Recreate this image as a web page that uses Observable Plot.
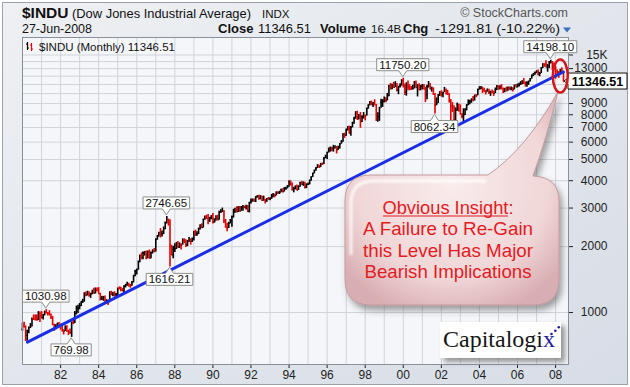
<!DOCTYPE html>
<html><head><meta charset="utf-8">
<script src="https://cdn.jsdelivr.net/npm/d3@7"></script>
<script src="https://cdn.jsdelivr.net/npm/@observablehq/plot@0.6"></script>
<style>
html,body{margin:0;padding:0;background:#fff;}
#wrap{position:relative;width:630px;height:387px;overflow:hidden;}
#wrap > svg, #chart{position:absolute;left:0;top:0;}
</style></head><body>
<div id="wrap">
<svg id="bg" width="630" height="387">
  <defs>
    <linearGradient id="outerG" x1="0" y1="0" x2="1" y2="1">
      <stop offset="0" stop-color="#eef0f3"/><stop offset="1" stop-color="#d7dde6"/>
    </linearGradient>
  </defs>
  <rect x="0" y="0" width="630" height="387" fill="#fff"/>
  <rect x="2.5" y="2.5" width="625" height="382" fill="url(#outerG)" stroke="#9aa1aa"/>
</svg>
<div id="chart"></div>
<svg id="ov" width="630" height="387"></svg>
</div>
<script>
// ---------------- data ----------------
const startYear = 1980;
const priorClose = 838.74; // Dec 1979 close (open of first bar)
const closes = [
875.85,863.14,785.75,817.06,850.85,867.92,935.32,932.59,932.42,924.49,993.34,963.99,
947.27,974.58,1003.87,997.75,991.75,976.88,952.34,881.47,849.98,852.55,888.98,875.00,
871.10,824.39,822.77,848.36,819.54,811.93,808.60,901.31,896.25,991.72,1039.28,1046.54,
1075.70,1112.62,1130.03,1226.20,1199.98,1221.96,1199.22,1216.16,1233.13,1225.20,1276.02,1258.64,
1220.58,1154.63,1164.89,1170.75,1104.85,1132.40,1115.28,1224.38,1206.71,1207.38,1188.94,1211.57,
1286.77,1284.01,1266.78,1258.06,1315.41,1335.46,1347.45,1334.01,1328.63,1374.31,1472.13,1546.67,
1570.99,1709.06,1818.61,1783.98,1876.71,1892.72,1775.31,1898.34,1767.58,1877.81,1914.23,1895.95,
2158.04,2223.99,2304.69,2286.36,2291.57,2418.53,2572.07,2662.95,2596.28,1993.53,1833.55,1938.83,
1958.22,2071.62,1988.06,2032.33,2031.12,2141.71,2128.73,2031.65,2112.91,2148.65,2114.51,2168.57,
2342.32,2258.39,2293.62,2418.80,2480.15,2440.06,2660.66,2737.27,2692.82,2645.08,2706.27,2753.20,
2590.54,2627.25,2707.21,2656.76,2876.66,2880.69,2905.20,2614.36,2452.48,2442.33,2559.65,2633.66,
2736.39,2882.18,2913.86,2887.87,3027.50,2906.75,3024.82,3043.60,3016.77,3069.10,2894.68,3168.83,
3223.39,3267.67,3235.47,3359.12,3396.88,3318.52,3393.78,3257.35,3271.66,3226.28,3305.16,3301.11,
3310.03,3370.81,3435.11,3427.55,3527.43,3516.08,3539.47,3651.25,3555.12,3680.59,3683.95,3754.09,
3978.36,3832.02,3635.96,3681.69,3758.37,3624.96,3764.50,3913.42,3843.19,3908.12,3739.23,3834.44,
3843.86,4011.05,4157.69,4321.27,4465.14,4556.10,4708.47,4610.56,4789.08,4755.48,5074.49,5117.12,
5395.30,5485.62,5587.14,5569.08,5643.18,5654.63,5528.91,5616.21,5882.17,6029.38,6521.70,6448.27,
6813.09,6877.74,6583.48,7008.99,7331.04,7672.79,8222.61,7622.42,7945.26,7442.08,7823.13,7908.25,
7906.50,8545.72,8799.81,9063.37,8899.95,8952.02,8883.29,7539.07,7842.62,8592.10,9116.55,9181.43,
9358.83,9306.58,9786.16,10789.04,10559.74,10970.80,10655.15,10829.28,10336.95,10729.86,10877.81,11497.12,
10940.53,10128.31,10921.92,10733.91,10522.33,10447.89,10521.98,11215.10,10650.92,10971.14,10414.49,10787.99,
10887.36,10495.28,9878.78,10734.97,10911.94,10502.40,10522.81,9949.75,8847.56,9075.14,9851.56,10021.50,
9920.00,10106.13,10403.94,9946.22,9925.25,9243.26,8736.59,8663.50,7591.93,8397.03,8896.09,8341.63,
8053.81,7891.08,7992.13,8480.09,8850.26,8985.44,9233.80,9415.82,9275.06,9801.12,9782.46,10453.92,
10488.07,10583.92,10357.70,10225.57,10188.45,10435.48,10139.71,10173.92,10080.27,10027.47,10428.02,10783.01,
10489.94,10766.23,10503.76,10192.51,10467.48,10274.97,10640.91,10481.60,10568.70,10440.07,10805.87,10717.50,
10864.86,10993.41,11109.32,11367.14,11168.31,11150.22,11185.68,11381.15,11679.07,12080.73,12221.93,12463.15,
12621.69,12268.63,12354.35,13062.91,13627.64,13408.62,13211.99,13357.74,13895.63,13930.01,13371.72,13264.82,
12650.36,12266.39,12262.89,12820.13,12638.32,11346.51
];
const highs = [
895,903,868,830,860,890,945,975,975,975,1010,1005,
1010,980,1015,1031,1000,1020,985,960,885,880,895,900,
885,875,835,870,870,830,840,905,940,1010,1070,1080,
1100,1125,1150,1230,1240,1250,1245,1225,1265,1290,1295,1295,
1300,1225,1185,1185,1190,1145,1140,1245,1250,1235,1245,1220,
1295,1310,1305,1290,1325,1345,1375,1360,1345,1385,1480,1560,
1580,1720,1830,1870,1890,1900,1910,1910,1930,1890,1935,1960,
2170,2250,2325,2420,2355,2460,2590,2747,2670,2650,2030,2010,
2060,2090,2110,2080,2060,2170,2170,2150,2130,2200,2170,2190,
2350,2380,2340,2430,2520,2540,2670,2760,2780,2800,2720,2770,
2830,2680,2770,2780,2900,2950,3000,2920,2660,2560,2580,2660,
2760,2960,2990,3040,3040,3050,3050,3080,3060,3090,3080,3190,
3300,3300,3300,3380,3420,3430,3420,3400,3400,3290,3320,3350,
3340,3460,3500,3470,3560,3560,3580,3660,3670,3720,3730,3800,
3990,3990,3900,3730,3790,3820,3790,3930,3970,3950,3930,3870,
3900,4030,4170,4330,4470,4590,4730,4710,4800,4820,5110,5230,
5400,5640,5700,5690,5800,5780,5730,5750,5920,6100,6560,6590,
6880,7080,7100,7080,7400,7800,8260,8300,8030,8190,7920,8190,
7980,8580,8900,9210,9240,9110,9370,8920,8180,8660,9420,9380,
9650,9560,10010,10900,11110,11040,11250,11330,11120,10800,11100,11570,
11750,11050,11200,11400,10990,10760,10920,11350,11400,10990,11080,10900,
11000,11000,10700,10900,11350,11100,10700,10620,10000,9550,9900,10200,
10300,10150,10670,10480,10350,10000,9400,9100,8800,8600,9050,8950,
8870,8110,8520,8520,8900,9350,9330,9460,9690,9830,9900,10470,
10750,10760,10690,10580,10320,10500,10460,10250,10370,10250,10600,10870,
10860,10850,10990,10600,10560,10700,10720,10720,10720,10640,10940,10990,
11050,11140,11340,11440,11710,11300,11330,11400,11730,12170,12360,12530,
12700,12800,12500,13140,13690,13700,14120,13600,14000,14198,14000,13780,
13280,12800,12600,12900,13130,12660
];
const lows = [
820,850,737,740,800,845,860,920,915,915,920,900,
935,925,965,985,965,965,930,875,820,835,845,865,
830,815,790,820,815,785,795,770,880,890,975,990,
1030,1065,1100,1115,1180,1190,1175,1160,1205,1215,1215,1245,
1215,1130,1135,1125,1100,1090,1078,1110,1195,1180,1180,1165,
1185,1270,1245,1245,1235,1295,1320,1305,1290,1320,1365,1455,
1485,1560,1690,1740,1740,1810,1740,1760,1755,1760,1850,1880,
1890,2140,2210,2190,2210,2270,2390,2540,2480,1616,1820,1760,
1880,1940,1970,1960,1930,2030,2060,1980,2000,2090,2030,2090,
2120,2230,2230,2270,2380,2420,2430,2640,2660,2520,2580,2650,
2540,2560,2620,2620,2640,2840,2860,2550,2430,2340,2420,2540,
2450,2700,2840,2850,2860,2880,2900,2900,2980,2940,2860,2850,
3130,3190,3200,3180,3330,3260,3270,3210,3230,3130,3190,3260,
3240,3290,3340,3340,3410,3460,3460,3520,3530,3550,3620,3670,
3730,3800,3590,3520,3630,3610,3610,3730,3820,3770,3670,3680,
3800,3830,3980,4140,4300,4420,4550,4560,4600,4700,4740,5040,
5000,5350,5400,5430,5400,5590,5300,5500,5580,5870,5990,6240,
6390,6750,6550,6390,6970,7240,7640,7560,7600,6940,7380,7650,
7500,7900,8480,8790,8860,8630,8850,7480,7400,7470,8560,8650,
9070,9080,9260,9670,10360,10410,10610,10640,10200,9880,10590,10810,
10600,9800,9730,10300,10300,10360,10400,10500,10600,9650,10300,10300,
10400,10400,9100,9380,10600,10400,10150,9800,8062,8800,9000,9700,
9630,9560,10100,9910,9810,9050,7530,8200,7520,7197,8300,8250,
7990,7670,7420,7940,8330,8800,8900,9030,9220,9250,9580,9770,
10400,10400,10000,10200,9850,10150,9910,9710,10000,9710,10000,10340,
10370,10400,10410,10010,10090,10240,10250,10380,10300,10160,10400,10700,
10600,10700,10900,10980,11000,10700,10680,10900,11300,11640,11960,12120,
12330,12050,11940,12350,13000,13200,13200,12520,13000,13650,12720,13100,
11630,12000,11730,12200,12600,11300
];
const yTickValues = [1000,2000,3000,4000,5000,6000,7000,8000,9000,13000,15000];
const yGridValues = [1000,2000,3000,4000,5000,6000,7000,8000,9000,10000,11000,12000,13000,14000,15000];
const xLabelYears = [1982,1984,1986,1988,1990,1992,1994,1996,1998,2000,2002,2004,2006,2008];
const gridYears = [1980,1981,1982,1983,1984,1985,1986,1987,1988,1989,1990,1991,1992,1993,1994,1995,1996,1997,1998,1999,2000,2001,2002,2003,2004,2005,2006,2007,2008];
const trendDates = ["1980-04-05","2008-05-28"];
const trendValues = [733, 12540];
const annoDates = ["1981-04-01","1982-08-01","1987-08-01","1987-10-01","2000-01-01","2001-09-01","2007-10-01"];
const annoValues = [1030.98, 769.98, 2746.65, 1616.21, 11750.20, 8062.34, 14198.10];
const annoSide = ["above","below","above","below","above","below","above"];
const lastClose = 11346.51;
const calloutLines = ["A Failure to Re-Gain","this Level Has Major","Bearish Implications"];

// ---------------- build ----------------
const RED = "#e60000", BLACK = "#000";
const bars = closes.map((c, i) => {
  const date = new Date(Date.UTC(startYear + Math.floor(i / 12), i % 12, 1));
  const open = i === 0 ? priorClose : closes[i - 1];
  return {date, open, close: c, high: highs[i], low: lows[i], down: c < open};
});
const DAY = 864e5;
const trend = trendDates.map((d, i) => ({date: new Date(d + "T00:00:00Z"), value: trendValues[i]}));
const yd = y => new Date(Date.UTC(y, 0, 1));
const barColor = d => d.down ? RED : BLACK;

const plot = Plot.plot({
  width: 630, height: 387,
  marginTop: 37, marginRight: 62, marginBottom: 23, marginLeft: 22,
  style: {background: "transparent", color: "#222", fontFamily: "'Liberation Sans', Arial, sans-serif", fontSize: "12px", overflow: "visible"},
  x: {type: "utc", domain: [new Date(Date.UTC(1980, 0, 1)), new Date(Date.UTC(2008, 8, 5))], label: null},
  y: {type: "log", domain: [579, 18030], label: null},
  marks: [
    Plot.frame({fill: "#f5f6f9", stroke: null}),
    Plot.gridX(gridYears.map(yd), {stroke: "#cfd3da", strokeOpacity: 1}),
    Plot.gridY(yGridValues, {stroke: "#cfd3da", strokeOpacity: 1}),
    Plot.ruleX(bars, {x: "date", y1: "low", y2: "high", stroke: barColor, strokeWidth: 1.6}),
    Plot.ruleY(bars, {x1: d => new Date(+d.date - 15 * DAY), x2: "date", y: "open", stroke: barColor, strokeWidth: 1.2}),
    Plot.ruleY(bars, {x1: "date", x2: d => new Date(+d.date + 15 * DAY), y: "close", stroke: barColor, strokeWidth: 1.2}),
    Plot.line(trend, {x: "date", y: "value", stroke: "#1a2ee8", strokeWidth: 3}),
    Plot.axisX(xLabelYears.map(yd), {tickSize: 4, tickPadding: 2, fontSize: 12, tickFormat: d => String(d.getUTCFullYear()).slice(2)}),
    Plot.axisY(yTickValues, {anchor: "right", tickSize: 4, tickFormat: () => ""}),
    Plot.text(yTickValues, {y: d => d, text: d => d === 15000 ? "15K" : String(d), frameAnchor: "right", dx: 39, textAnchor: "end", fontSize: 12, fill: "#222"}),
    Plot.frame({stroke: "#8a9099"})
  ]
});
document.getElementById("chart").appendChild(plot);

const xs = plot.scale("x"), ys = plot.scale("y");
const NS = "http://www.w3.org/2000/svg";
const ov = document.getElementById("ov");
function mk(tag, attrs, parent = ov) {
  const e = document.createElementNS(NS, tag);
  for (const k in attrs) e.setAttribute(k, attrs[k]);
  parent.appendChild(e);
  return e;
}
function txt(s, attrs, parent = ov) { const t = mk("text", attrs, parent); t.textContent = s; return t; }

// defs
const defs = mk("defs", {});
defs.innerHTML = `
<radialGradient id="bubG" cx="50%" cy="42%" r="65%">
  <stop offset="0" stop-color="#f9ecec"/><stop offset="0.7" stop-color="#f0d6d7"/><stop offset="1" stop-color="#d9aeb2"/>
</radialGradient>
<filter id="shad" x="-20%" y="-20%" width="150%" height="150%">
  <feDropShadow dx="3" dy="5" stdDeviation="3" flood-color="#444" flood-opacity="0.5"/>
</filter>
<filter id="shad2" x="-20%" y="-20%" width="150%" height="160%">
  <feDropShadow dx="4" dy="4" stdDeviation="2.5" flood-color="#555" flood-opacity="0.6"/>
</filter>
<filter id="blur1"><feGaussianBlur stdDeviation="1.2"/></filter>`;

const F = "'Liberation Sans', Arial, sans-serif";
// header
txt("$INDU", {x: 22, y: 18, "font-family": F, "font-size": 15.5, "font-weight": "bold", fill: "#111"});
txt("(Dow Jones Industrial Average)", {x: 72, y: 18, "font-family": F, "font-size": 13, fill: "#111", textLength: 179, lengthAdjust: "spacingAndGlyphs"});
txt("INDX", {x: 262, y: 18, "font-family": F, "font-size": 11.5, fill: "#111"});
txt("© StockCharts.com", {x: 568, y: 17, "font-family": F, "font-size": 12.5, fill: "#555", "text-anchor": "end"});
txt("27-Jun-2008", {x: 22, y: 33, "font-family": F, "font-size": 12.5, fill: "#111", textLength: 70, lengthAdjust: "spacingAndGlyphs"});
txt("Close", {x: 218, y: 33, "font-family": F, "font-size": 13, "font-weight": "bold", fill: "#111"});
txt("11346.51", {x: 258, y: 33, "font-family": F, "font-size": 12.5, fill: "#111", textLength: 53, lengthAdjust: "spacingAndGlyphs"});
txt("Volume", {x: 320, y: 33, "font-family": F, "font-size": 13, "font-weight": "bold", fill: "#111"});
txt("16.4B", {x: 371, y: 33, "font-family": F, "font-size": 11.5, fill: "#111"});
txt("Chg", {x: 403, y: 33, "font-family": F, "font-size": 13, "font-weight": "bold", fill: "#111"});
txt("-1291.81 (-10.22%)", {x: 435, y: 33, "font-family": F, "font-size": 12, fill: "#111", textLength: 125, lengthAdjust: "spacingAndGlyphs"});
mk("path", {d: "M563,27.5 L571,27.5 L567,32.5 Z", fill: "#3a6fc0"});

// legend inside plot
const lg = mk("g", {});
mk("line", {x1: 27.5, y1: 42, x2: 27.5, y2: 50, stroke: "#000", "stroke-width": 1.2}, lg);
mk("line", {x1: 26, y1: 44, x2: 27.5, y2: 44, stroke: "#000"}, lg);
mk("line", {x1: 27.5, y1: 48, x2: 29, y2: 48, stroke: "#000"}, lg);
mk("line", {x1: 31.5, y1: 43, x2: 31.5, y2: 51, stroke: RED, "stroke-width": 1.2}, lg);
mk("line", {x1: 30, y1: 45, x2: 31.5, y2: 45, stroke: RED}, lg);
mk("line", {x1: 31.5, y1: 49, x2: 33, y2: 49, stroke: RED}, lg);
txt("$INDU (Monthly) 11346.51", {x: 39, y: 51, "font-family": F, "font-size": 11.5, fill: "#111"});

// value annotations
annoDates.forEach((ds, i) => {
  const px = xs.apply(new Date(ds + "T00:00:00Z"));
  const py = ys.apply(annoValues[i]);
  const g = mk("g", {});
  const path = mk("path", {fill: "#fff", stroke: "#8d8d8d", "stroke-width": 1}, g);
  const t = txt(annoValues[i].toFixed(2), {x: px, "text-anchor": "middle", "font-family": F, "font-size": 11.5, fill: "#111"}, g);
  const w = t.getComputedTextLength() + 5, h = 12;
  const x0 = px - w / 2, x1 = px + w / 2;
  let d;
  if (annoSide[i] === "above") {
    const y1 = py - 7, y0 = y1 - h;
    d = `M${x0},${y0} H${x1} V${y1} H${px + 4} L${px},${py - 1} L${px - 4},${y1} H${x0} Z`;
    t.setAttribute("y", y1 - 2);
  } else {
    const y0 = py + 7, y1 = y0 + h;
    d = `M${x0},${y0} H${px - 4} L${px},${py + 1} L${px + 4},${y0} H${x1} V${y1} H${x0} Z`;
    t.setAttribute("y", y1 - 2);
  }
  path.setAttribute("d", d);
});

// last price label at right
{
  const cy = ys.apply(lastClose);
  mk("path", {d: `M568,${cy - 8} H627 V${cy + 8} H568 V${cy + 3} L564,${cy} L568,${cy - 3} Z`, fill: "#fff", stroke: "#111", "stroke-width": 1});
  txt("11346.51", {x: 597.5, y: cy + 4.5, "text-anchor": "middle", "font-family": F, "font-size": 12.5, "font-weight": "bold", fill: "#000"});
}

// callout bubble
mk("path", {
  d: "M345,201 Q345,175 371,175 L488,175 Q525,150 558,92 Q546,140 533,176 Q559,177 559,201 L559,279 Q559,305 533,305 L371,305 Q345,305 345,279 Z",
  fill: "url(#bubG)", stroke: "#c39a9e", "stroke-width": 1, filter: "url(#shad)"
});
mk("path", {d: "M351,255 L351,203 Q351,182 372,181 L486,181", fill: "none", stroke: "#fff", "stroke-width": 3, opacity: 0.8, filter: "url(#blur1)"});
const CR = "#e31b23";
txt("Obvious Insight:", {x: 448, y: 213.5, "text-anchor": "middle", "font-family": F, "font-size": 18.5, fill: CR, textLength: 131, lengthAdjust: "spacingAndGlyphs"});
mk("line", {x1: 383, y1: 216, x2: 508, y2: 216, stroke: CR, "stroke-width": 1.2});
calloutLines.forEach((s, i) => {
  txt(s, {x: 448, y: 235 + i * 21.6, "text-anchor": "middle", "font-family": F, "font-size": 18.5, fill: CR, textLength: [170, 170, 167][i], lengthAdjust: "spacingAndGlyphs"});
});

// red ellipse around the latest bars
mk("ellipse", {cx: xs.apply(new Date(Date.UTC(2008, 3, 10))), cy: ys.apply(11960), rx: 7.5, ry: 16.5, fill: "none", stroke: "#d4161c", "stroke-width": 2.5});

// Capitalogix logo
mk("rect", {x: 440, y: 322, width: 121, height: 36, fill: "#fff", filter: "url(#shad2)"});
const lt = txt("Capitalogi", {x: 443, y: 347, "font-family": "'Liberation Serif', 'Times New Roman', serif", "font-size": 24, fill: "#161616"});
const xsp = document.createElementNS(NS, "tspan"); xsp.setAttribute("fill", "#1e1e9a"); xsp.textContent = "x"; lt.appendChild(xsp);
[[551.5, 334], [555.3, 330.8], [558.8, 327.3]].forEach(([cx, cy]) => mk("circle", {cx, cy, r: 1.3, fill: "#1e1e9a"}));
</script>
</body></html>
